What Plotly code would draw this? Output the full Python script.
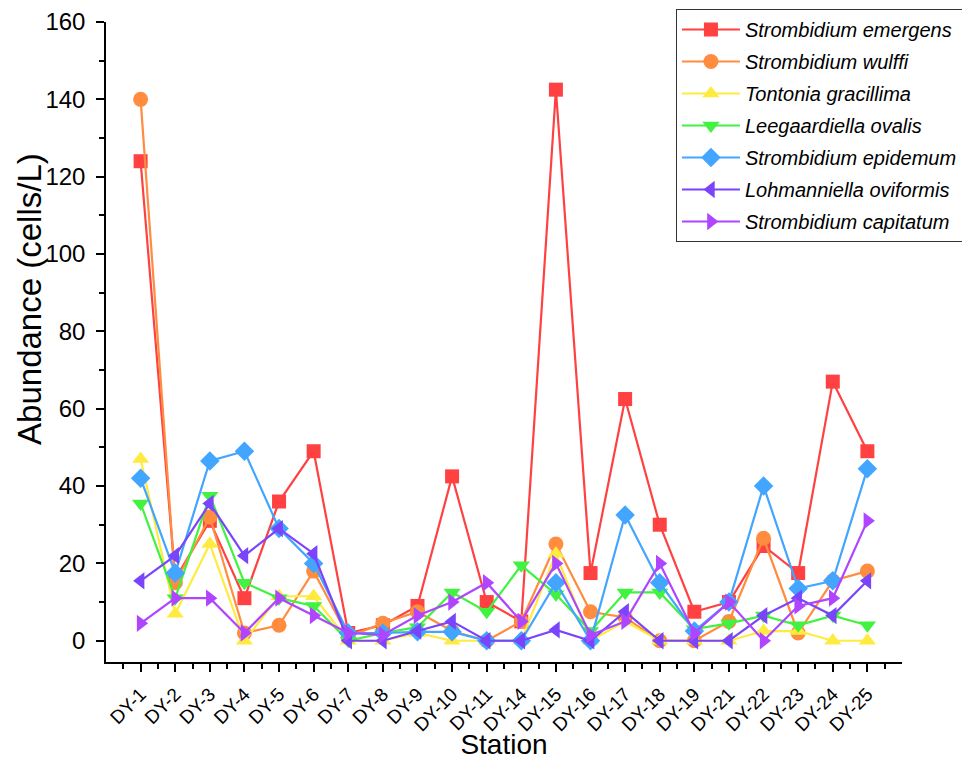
import plotly.graph_objects as go

stations = ["DY-1", "DY-2", "DY-3", "DY-4", "DY-5", "DY-6", "DY-7", "DY-8", "DY-9", "DY-10",
            "DY-11", "DY-14", "DY-15", "DY-16", "DY-17", "DY-18", "DY-19", "DY-21", "DY-22",
            "DY-23", "DY-24", "DY-25"]

s_emergens = [124, 16, 31, 11, 36, 49, 2, 4, 9, 42.5, 10, 5, 142.5, 17.5, 62.5, 30, 7.5, 10, 24.5, 17.5, 67, 49]
s_wulffi = [140, 15, 32, 2, 4, 18, 1, 4.5, 7.5, 2.5, 0, 5, 25, 7.5, 6, 0, 0, 5, 26.5, 2, 15.5, 18]
t_gracillima = [47, 7, 25, 0, 11.5, 11.5, 0, 0, 2, 0, 0, 0, 22.5, 0, 5, 0, 0, 0, 2.5, 2.5, 0, 0]
l_ovalis = [35.5, 11, 37.5, 15, 11, 9, 0, 2, 3.5, 12.5, 7.5, 19.5, 12, 2.5, 12.5, 12.5, 3, 4.5, 6.5, 4, 6.5, 4]
s_epidemum = [42, 17.5, 46.5, 49, 29, 20, 2, 2, 2.3, 2.3, 0, 0, 15, 0, 32.5, 15, 2.5, 10, 40, 13.5, 15.5, 44.5]
l_oviformis = [15.5, 22, 35.5, 22, 29, 22.5, 0, 0, 2.5, 5, 0, 0, 2.8, 0, 7.5, 0, 0, 0, 6.5, 11, 6.5, 15.5]
s_capitatum = [4.5, 11, 11, 2, 11, 6.5, 2, 1.5, 6.5, 10, 15, 5, 20, 1.5, 5, 20, 2, 10, 0, 9, 11, 31]

series = [
    ("Strombidium emergens", s_emergens, "#FF4141", "square"),
    ("Strombidium wulffi", s_wulffi, "#FF8C3F", "circle"),
    ("Tontonia gracillima", t_gracillima, "#FFEB3F", "triangle-up"),
    ("Leegaardiella ovalis", l_ovalis, "#41F241", "triangle-down"),
    ("Strombidium epidemum", s_epidemum, "#42A5FF", "diamond"),
    ("Lohmanniella oviformis", l_oviformis, "#7A45FA", "triangle-left"),
    ("Strombidium capitatum", s_capitatum, "#B045FF", "triangle-right"),
]

xidx = list(range(len(stations)))

fig = go.Figure()
for name, vals, color, sym in series:
    fig.add_trace(go.Scatter(
        x=xidx, y=vals, name=f"<i>{name}</i>", mode="lines+markers",
        legendgroup=name,
        line=dict(color=color, width=2.2),
        marker=dict(symbol=sym, size=15 if sym != "square" else 14, color=color,
                    line=dict(width=0)),
    ))

font_family = "Liberation Sans, Arial, sans-serif"

# page body has an 8px margin; figure sized so it ends at the window edge
fig.update_layout(
    width=962, height=752,
    margin=dict(l=98, r=68, t=14, b=98, autoexpand=False),
    paper_bgcolor="white", plot_bgcolor="white",
    font=dict(family=font_family, color="black"),
    showlegend=True,
    legend=dict(
        x=0.716, y=1.0203, xanchor="left", yanchor="top",
        bordercolor="#333333", borderwidth=1, bgcolor="white",
        font=dict(size=20, family=font_family, color="black"),
        itemwidth=58, tracegroupgap=3,
    ),
    xaxis=dict(
        range=[-1, 22], tickmode="array", tickvals=xidx, ticktext=stations,
        tickangle=-45, tickfont=dict(size=19), automargin=False,
        showline=True, linecolor="black", linewidth=1.5,
        ticks="outside", ticklen=8, tickwidth=1.5, tickcolor="black",
        ticklabelstandoff=4,
        minor=dict(tickvals=[i - 0.5 for i in range(len(stations) + 1)],
                   ticks="outside", ticklen=5, tickwidth=1.5, tickcolor="black"),
        showgrid=False, zeroline=False, mirror=False,
        title=dict(text="Station", font=dict(size=28), standoff=4),
    ),
    yaxis=dict(
        range=[-5.5, 160], tickvals=[0, 20, 40, 60, 80, 100, 120, 140, 160],
        tickfont=dict(size=24), automargin=False, ticklabeloverflow="allow",
        showline=True, linecolor="black", linewidth=1.5,
        ticks="outside", ticklen=8, tickwidth=1.5, tickcolor="black",
        ticklabelstandoff=6,
        minor=dict(dtick=10, ticks="outside", ticklen=5, tickwidth=1.5, tickcolor="black"),
        showgrid=False, zeroline=False, mirror=False,
    ),
    annotations=[dict(
        text="Abundance (cells/L)", textangle=-90, showarrow=False,
        xref="paper", yref="paper", x=-0.097, y=0.567,
        xanchor="center", yanchor="middle",
        font=dict(size=33, family=font_family, color="black"),
    )],
)

fig.write_html("out.html")
